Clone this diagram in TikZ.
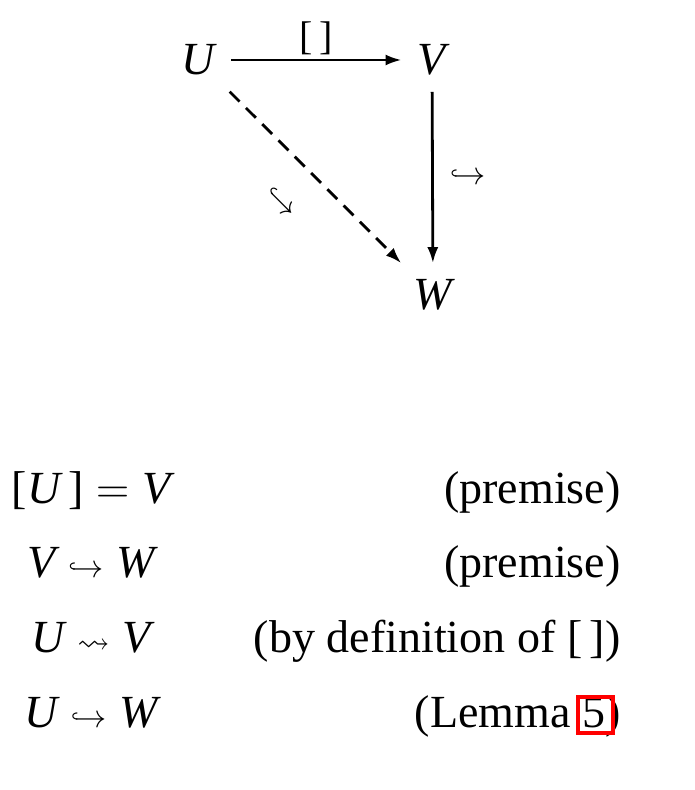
\RequirePackage{fix-cm}
\documentclass[tikz,border=0pt]{standalone}
\usepackage{amssymb}
\usepackage{fontspec}
\setmainfont{Liberation Serif}
\usetikzlibrary{arrows.meta,calc}
\newcommand\hook{\mathrel{\scriptstyle\hookrightarrow}}
\newcommand\squig{\mathrel{\scriptstyle\rightsquigarrow}}
\begin{document}
\begin{tikzpicture}[x=0.5pt,y=-0.5pt,
  font=\fontsize{23}{27}\selectfont,
  obj/.style={inner sep=8pt},
  arr/.style={line width=1.4pt,-{Latex[length=8pt,width=5.5pt]}},
  lbl/.style={font=\fontsize{20}{24}\selectfont},
  rowtxt/.style={inner sep=0pt,anchor=base},
  linkbox/.style={draw=red,line width=1.8pt}]
 \useasboundingbox (0,0) rectangle (694,790);
 % the triangle
 \node [obj] (U) at (198,60) {$\mathit{U}$};
 \node [obj] (V) at (432,60) {$\mathit{V}$};
 \node [obj] (W) at (433,295) {$\mathit{W}$};
 \draw [arr] (U) -- node [lbl,above,inner sep=2pt] {[\,]} (V);
 \draw [arr] (V) -- node [right,inner sep=8pt] {$\scriptstyle\hookrightarrow$} (W);
 \draw [arr,dash pattern=on 7pt off 4.5pt] (U) -- node [sloped,below,inner sep=17pt,pos=0.47] {$\scriptstyle\hookrightarrow$} (W);
 % the derivation
 \node [rowtxt] (f1) at (91,503) {$\mbox{[}\mathit{U}\mbox{\,]}=\mathit{V}$};
 \node [rowtxt] (f2) at (91,577) {$\mathit{V}\hook\mathit{W}$};
 \node [rowtxt] (f3) at (91,652) {$\mathit{U}\squig\mathit{V}$};
 \node [rowtxt] (f4) at (91,727) {$\mathit{U}\hook\mathit{W}$};
 \node [rowtxt,anchor=base east] (r1) at (621,503) {(premise)};
 \node [rowtxt,anchor=base east] (r2) at (621,577) {(premise)};
 \node [rowtxt,anchor=base east] (r3) at (621,652) {(by definition of [\,])};
 \node [rowtxt,anchor=base east] (r4) at (621,727) {(Lemma 5)};
 \draw [linkbox] ($(r4.base east)+(-43,-30)$) rectangle ($(r4.base east)+(-8,6)$);
\end{tikzpicture}
\end{document}
